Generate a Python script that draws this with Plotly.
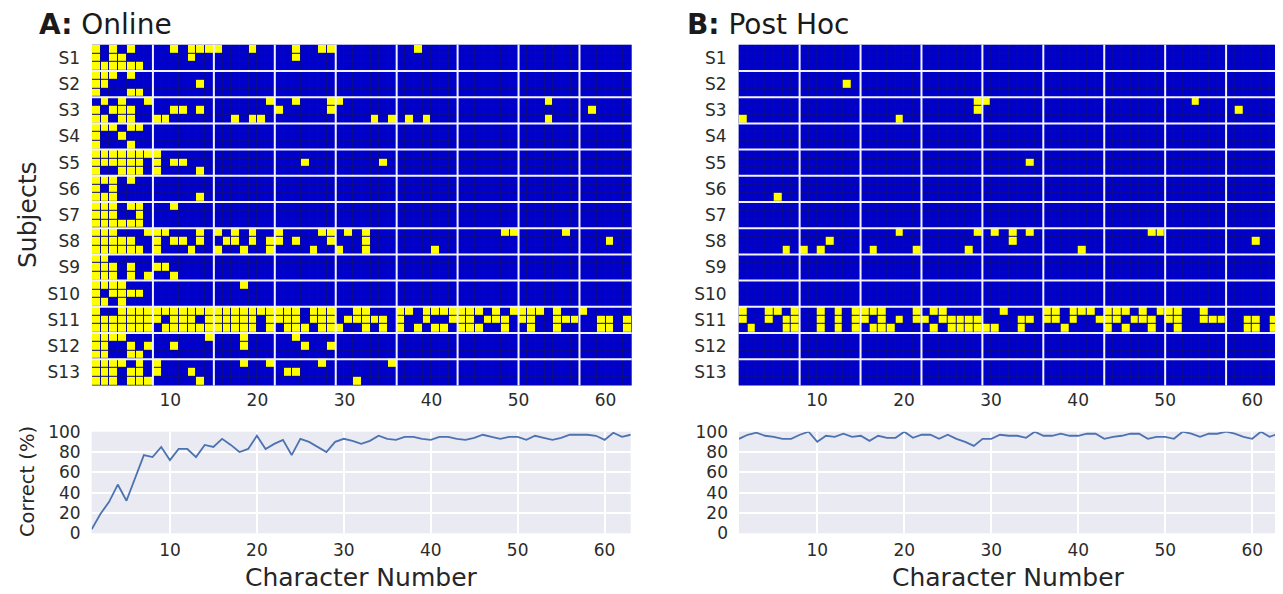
import numpy as np
import plotly.graph_objects as go

# ---------------- data ----------------
subjects = [f"S{i}" for i in range(1, 14)]
trials_per_subject = 3
n_grid_chars = 62
block_size = 7

# yellow cells (errors): 1-based character columns, one list per trial row (3 rows per subject)
online_errors = [
    # S1
    [1, 3, 5, 10, 12, 13, 14, 15, 19, 24, 27, 28, 38],
    [1, 3, 4, 12, 24],
    [1, 2, 3, 4, 5, 6],
    # S2
    [1, 2, 3, 5],
    [1, 2, 13],
    [1, 5, 6],
    # S3
    [2, 4, 7, 21, 24, 28, 29, 53],
    [1, 3, 4, 5, 10, 11, 13, 22, 28, 58],
    [1, 2, 4, 5, 8, 9, 17, 19, 20, 33, 35, 37, 39, 53],
    # S4
    [1, 2, 3, 5, 6],
    [1, 4],
    [1, 5],
    # S5
    [1, 2, 3, 4, 5, 6, 7, 8],
    [1, 2, 3, 4, 5, 6, 8, 10, 11, 25, 34],
    [1, 4, 5, 6, 8, 13],
    # S6
    [1, 2, 3, 5],
    [1, 3],
    [1, 2, 3, 13],
    # S7
    [1, 2, 3, 5, 6, 10],
    [1, 2, 3, 6],
    [1, 2, 3, 4, 5, 6],
    # S8
    [1, 2, 3, 7, 8, 9, 13, 15, 17, 19, 22, 27, 28, 30, 32, 48, 49, 55],
    [1, 2, 3, 4, 5, 8, 10, 11, 13, 16, 17, 19, 21, 22, 24, 28, 32, 60],
    [1, 2, 3, 4, 5, 6, 8, 12, 15, 18, 21, 26, 29, 32, 40],
    # S9
    [1, 2],
    [1, 2, 3, 5, 8, 9],
    [1, 2, 3, 5, 7, 10],
    # S10
    [1, 2, 3, 4, 18],
    [1, 3, 4, 5, 6],
    [1, 2, 4],
    # S11
    [1, 4, 5, 6, 7, 8, 9, 10, 11, 12, 13, 14, 15, 16, 17, 18, 19, 20, 21, 22, 23, 24,
     26, 27, 28, 31, 32, 36, 37, 39, 40, 41, 42, 43, 44, 45, 47, 49, 50, 51, 52, 54, 57],
    [1, 2, 3, 4, 5, 6, 7, 8, 10, 11, 12, 14, 15, 16, 17, 18, 19, 21, 22, 23, 24, 26, 27,
     28, 30, 31, 32, 33, 34, 36, 39, 42, 43, 44, 46, 47, 48, 50, 51, 54, 55, 56, 59, 60, 62],
    [1, 2, 3, 4, 5, 6, 7, 9, 10, 11, 12, 13, 14, 15, 16, 17, 18, 19, 21, 23, 24, 25, 27,
     28, 29, 32, 34, 36, 38, 40, 41, 43, 44, 45, 48, 51, 54, 59, 60, 62],
    # S12
    [1, 2, 3, 4, 14, 18, 24],
    [1, 2, 5, 7, 10, 18, 25, 28],
    [1, 2, 5, 6],
    # S13
    [1, 2, 3, 4, 6, 8, 18, 21, 27, 35],
    [1, 2, 3, 5, 6, 8, 12, 23, 24],
    [1, 2, 3, 5, 6, 7, 13, 31],
]

posthoc_errors = [
    # S1
    [], [], [],
    # S2
    [], [13], [],
    # S3
    [28, 29, 53], [28, 58], [1, 19],
    # S4
    [], [], [],
    # S5
    [], [34], [],
    # S6
    [], [], [5],
    # S7
    [], [], [],
    # S8
    [19, 28, 30, 32, 34, 48, 49],
    [11, 32, 60],
    [6, 8, 10, 16, 21, 27, 40],
    # S9
    [], [], [],
    # S10
    [], [], [],
    # S11
    [1, 4, 5, 7, 10, 12, 14, 15, 16, 17, 21, 23, 24, 31, 36, 37, 39, 40, 41, 43, 44, 45,
     47, 49, 50, 51, 54],
    [1, 4, 6, 7, 10, 12, 14, 15, 17, 19, 21, 22, 24, 25, 26, 27, 28, 33, 34, 36, 37, 39,
     42, 43, 44, 46, 47, 48, 50, 51, 54, 55, 56, 59, 60, 62],
    [2, 6, 7, 10, 12, 14, 16, 17, 18, 23, 25, 26, 27, 28, 29, 30, 33, 38, 43, 45, 48, 51,
     59, 60, 62],
    # S12
    [], [], [],
    # S13
    [], [], [],
]

char_numbers = list(range(1, 64))
online_correct = [4, 19, 31, 48, 32, 55, 77, 75, 85, 72, 83, 83, 75, 87, 85, 93, 87, 80, 83, 96,
                  83, 88, 92, 77, 93, 90, 85, 80, 90, 93, 91, 88, 91, 96, 93, 92, 95, 95, 93, 92,
                  95, 95, 93, 92, 94, 97, 95, 93, 95, 95, 92, 96, 94, 92, 94, 97, 97, 97, 96, 92,
                  99, 95, 97]
posthoc_correct = [93, 97, 99, 96, 95, 93, 93, 97, 100, 90, 96, 95, 98, 95, 96, 91, 96, 94, 94, 100,
                   94, 97, 97, 93, 97, 93, 90, 86, 93, 93, 97, 96, 96, 94, 100, 96, 96, 98, 96, 96,
                   98, 98, 93, 95, 96, 98, 98, 93, 95, 95, 93, 100, 98, 95, 98, 98, 100, 98, 95, 93,
                   100, 95, 98]

x_ticks = [10, 20, 30, 40, 50, 60]
y_ticks_pct = [0, 20, 40, 60, 80, 100]

# ---------------- style ----------------
PAGE_MARGIN = 8          # default <body> margin of the written page
VIEW_W, VIEW_H = 1283, 594
W, H = VIEW_W - PAGE_MARGIN, VIEW_H - PAGE_MARGIN
FONT = "DejaVu Sans, Liberation Sans, Arial, sans-serif"
TICK_COLOR = "#2b2b2b"
BLUE = "#0000CC"
YELLOW = "#FFFF00"
BG = "#EAEAF2"
LINE = "#4C72B0"


def fx(px):
    return (px - PAGE_MARGIN) / W


def fy(px):
    return 1 - (px - PAGE_MARGIN) / H


def px_x(a, b):
    return [fx(a), fx(b)]


def px_y(top, bottom):
    return [fy(bottom), fy(top)]


def to_matrix(errors):
    z = np.zeros((len(errors), n_grid_chars))
    for r, cols in enumerate(errors):
        for c in cols:
            z[r, c - 1] = 1
    return z


n_rows = len(subjects) * trials_per_subject
cell_x = [c + 0.5 for c in range(1, n_grid_chars + 1)]
cell_y = list(range(n_rows))
subj_centers = [k * trials_per_subject + 1 for k in range(len(subjects))]

colorscale = [[0, BLUE], [0.5, BLUE], [0.5, YELLOW], [1, YELLOW]]

fig = go.Figure()

panels = [
    dict(errors=online_errors, correct=online_correct, hx="x", hy="y", lx="x3", ly="y3"),
    dict(errors=posthoc_errors, correct=posthoc_correct, hx="x2", hy="y2", lx="x4", ly="y4"),
]

for p in panels:
    fig.add_trace(go.Heatmap(
        x=cell_x, y=cell_y, z=to_matrix(p["errors"]), colorscale=colorscale,
        zmin=0, zmax=1, showscale=False, xgap=1, ygap=1,
        xaxis=p["hx"], yaxis=p["hy"], hoverinfo="skip"))
    fig.add_trace(go.Scatter(
        x=char_numbers, y=p["correct"], mode="lines",
        line=dict(color=LINE, width=1.8), xaxis=p["lx"], yaxis=p["ly"],
        showlegend=False, hoverinfo="skip"))

heat_x_domains = [px_x(92, 631.7), px_x(738.7, 1278.3)]
line_x_domains = [px_x(91.7, 630.7), px_x(739, 1278.3)]
heat_y_domain = px_y(44.8, 385.4)
line_y_domain = px_y(431.7, 533.3)

tickfont = dict(family=FONT, size=17, color=TICK_COLOR)

layout = dict(
    width=W, height=H,
    margin=dict(l=0, r=0, t=0, b=0, pad=0, autoexpand=False),
    paper_bgcolor="white", plot_bgcolor=BG, showlegend=False,
    font=dict(family=FONT, color=TICK_COLOR),
)

for i, (hxd, lxd) in enumerate(zip(heat_x_domains, line_x_domains)):
    hx = "xaxis" if i == 0 else "xaxis2"
    hy = "yaxis" if i == 0 else "yaxis2"
    lx = "xaxis3" if i == 0 else "xaxis4"
    ly = "yaxis3" if i == 0 else "yaxis4"
    hy_ref = "y" if i == 0 else "y2"
    hx_ref = "x" if i == 0 else "x2"
    lx_ref = "x3" if i == 0 else "x4"
    ly_ref = "y3" if i == 0 else "y4"
    layout[hx] = dict(domain=hxd, anchor=hy_ref, range=[1, n_grid_chars + 1],
                      tickvals=x_ticks, ticks="", showgrid=False, zeroline=False,
                      showline=False, tickfont=tickfont, ticklabelstandoff=3,
                      automargin=False)
    layout[hy] = dict(domain=heat_y_domain, anchor=hx_ref, range=[n_rows - 0.5, -0.5],
                      tickvals=subj_centers, ticktext=subjects, ticks="", showgrid=False,
                      zeroline=False, showline=False, tickfont=tickfont,
                      ticklabelstandoff=11, automargin=False)
    layout[lx] = dict(domain=lxd, anchor=ly_ref, range=[1, len(char_numbers)],
                      tickvals=x_ticks, ticks="", showgrid=True, gridcolor="white",
                      gridwidth=1.5, zeroline=False, showline=False, tickfont=tickfont,
                      ticklabelstandoff=5, automargin=False)
    layout[ly] = dict(domain=line_y_domain, anchor=lx_ref, range=[0, 100],
                      tickvals=y_ticks_pct, ticks="", showgrid=True, gridcolor="white",
                      gridwidth=1.5, zeroline=False, showline=False, tickfont=tickfont,
                      ticklabelstandoff=10, automargin=False)

fig.update_layout(**layout)

# dark cell borders behind the heatmaps, white block separators above them
shapes = []
for i in range(2):
    xr = "x" if i == 0 else "x2"
    yr = "y" if i == 0 else "y2"
    shapes.append(dict(type="rect", xref=f"{xr} domain", yref=f"{yr} domain",
                       x0=0, x1=1, y0=0, y1=1, fillcolor="#0c0c8a",
                       line=dict(width=0), layer="below"))
    for k in range(1, len(subjects)):
        yb = k * trials_per_subject - 0.5
        shapes.append(dict(type="line", xref=f"{xr} domain", yref=yr, x0=0, x1=1,
                           y0=yb, y1=yb, line=dict(color="#F2F2FB", width=2), layer="above"))
    for k in range(1, (n_grid_chars - 1) // block_size + 1):
        xb = 1 + k * block_size
        shapes.append(dict(type="line", xref=xr, yref=f"{yr} domain", x0=xb, x1=xb,
                           y0=0, y1=1, line=dict(color="#F2F2FB", width=2), layer="above"))
fig.update_layout(shapes=shapes)

title_font = dict(family=FONT, size=28, color="#1a1a1a")
label_font = dict(family=FONT, size=25, color="#262626")
annotations = [
    dict(text="<b>A:</b> Online", x=fx(37), y=fy(25), xref="paper", yref="paper",
         xanchor="left", yanchor="middle", showarrow=False, font=title_font),
    dict(text="<b>B:</b> Post Hoc", x=fx(685), y=fy(25), xref="paper", yref="paper",
         xanchor="left", yanchor="middle", showarrow=False, font=title_font),
    dict(text="Subjects", x=fx(27), y=fy(215), xref="paper", yref="paper",
         textangle=-90, xanchor="center", yanchor="middle", showarrow=False, font=label_font),
    dict(text="Correct (%)", x=fx(27), y=fy(482), xref="paper", yref="paper",
         textangle=-90, xanchor="center", yanchor="middle", showarrow=False,
         font=dict(family=FONT, size=19.5, color="#262626")),
    dict(text="Character Number", x=fx(361), y=fy(577), xref="paper", yref="paper",
         xanchor="center", yanchor="middle", showarrow=False, font=label_font),
    dict(text="Character Number", x=fx(1008.5), y=fy(577), xref="paper", yref="paper",
         xanchor="center", yanchor="middle", showarrow=False, font=label_font),
]
fig.update_layout(annotations=annotations)

fig.write_html("out.html")
